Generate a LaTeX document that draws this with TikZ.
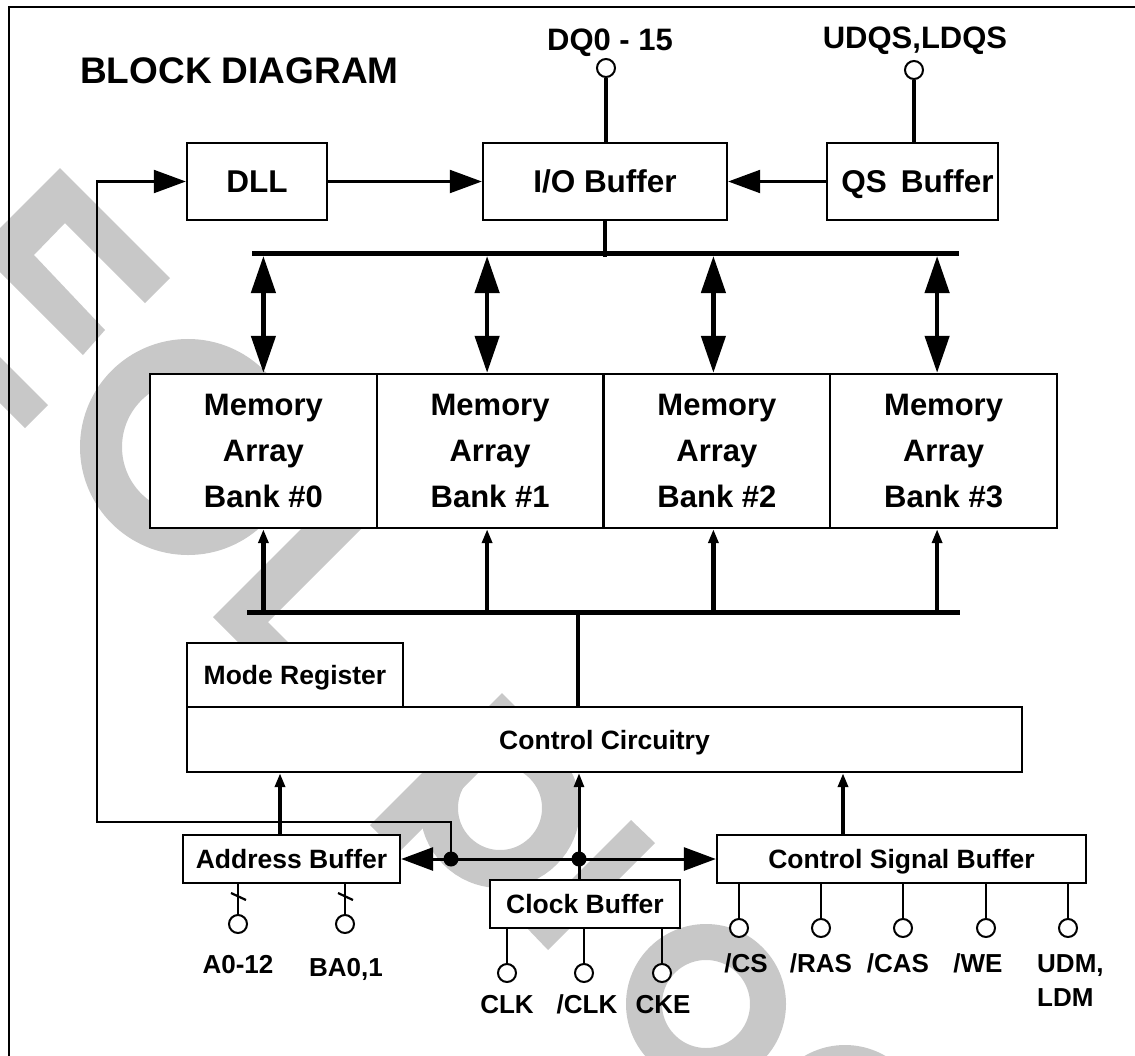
\documentclass[tikz,border=0pt]{standalone}
\usepackage{fontspec}
\setmainfont{Liberation Sans}
\usetikzlibrary{arrows.meta,calc,backgrounds}
\definecolor{wm}{RGB}{200,200,200}
\tikzset{
  bighead/.tip={Triangle[length=32pt,width=23pt]},
  bihead/.tip={Triangle[length=37pt,width=24pt]},
  smallhead/.tip={Triangle[length=14pt,width=10pt]},
}
\begin{document}
\begin{tikzpicture}[x=1pt,y=-1pt,
  box/.style={draw,line width=2.4pt,fill=white,inner sep=0pt,font=\bfseries\fontsize{26.5}{30}\selectfont,text height=19.3pt,text depth=0pt},
  bigbox/.style={box,font=\bfseries\fontsize{31.5}{36}\selectfont,text height=22.6pt},
  bank/.style={draw,line width=2.4pt,fill=white,minimum width=226.75pt,minimum height=154pt,inner sep=0pt,align=center,font=\bfseries\fontsize{31}{46}\selectfont},
  pin/.style={circle,draw,line width=2pt,fill=white,minimum size=18pt,inner sep=0pt},
  lbl/.style={anchor=base,inner sep=0pt,font=\bfseries\fontsize{26}{33}\selectfont},
  toplbl/.style={anchor=base,inner sep=0pt,font=\bfseries\fontsize{31}{36}\selectfont},
  thinln/.style={line width=2.2pt},
  midln/.style={line width=3pt},
  thickln/.style={line width=4.5pt},
  busln/.style={line width=5pt},
  dot/.style={circle,fill=black,inner sep=0pt,minimum size=15pt},
]
\useasboundingbox (0,0) rectangle (1135,1055);

% frame
\draw[line width=2.2pt] (9,1060) -- (9,7) -- (1140,7);

% title
\node[anchor=base west,inner sep=0pt,font=\bfseries\fontsize{37}{44}\selectfont] (title) at (80,83) {BLOCK DIAGRAM};

% top boxes
\node[bigbox,minimum width=140pt,minimum height=77pt] (dll) at (257,181.5) {DLL};
\node[bigbox,minimum width=244pt,minimum height=77pt] (io) at (605,181.5) {I/O Buffer};
\node[bigbox,minimum width=171pt,minimum height=77pt] (qs) at (912.5,181.5) {\hspace{10pt}QS\hspace{14pt}Buffer};

% top pins
\node[pin] (dq) at (606,68) {};
\node[toplbl] (dqlbl) at (610,50) {DQ0 - 15};
\node[pin] (dqs) at (914,70) {};
\node[toplbl] (dqslbl) at (915,48) {UDQS,LDQS};

% banks
\node[bank] (b0) at (263.4,451) {Memory\\Array\\Bank \#0};
\node[bank] (b1) at (490.1,451) {Memory\\Array\\Bank \#1};
\node[bank] (b2) at (716.9,451) {Memory\\Array\\Bank \#2};
\node[bank] (b3) at (943.6,451) {Memory\\Array\\Bank \#3};

% buses
\coordinate (ub1) at (252,253);
\coordinate (ub2) at (959,253);
\coordinate (lb1) at (247,612);
\coordinate (lb2) at (960,612);

% control
\node[box,minimum width=216pt,minimum height=64pt] (mode) at (295,675) {Mode Register};
\node[box,minimum width=835pt,minimum height=65pt] (cc) at (604.5,739.5) {Control Circuitry\hspace{39pt}};

% buffers
\node[box,minimum width=217pt,minimum height=48pt] (ab) at (291.5,859) {Address Buffer};
\node[box,minimum width=190pt,minimum height=48pt] (cb) at (585,904) {Clock Buffer};
\node[box,minimum width=369pt,minimum height=48pt] (csb) at (901.5,859) {Control Signal Buffer};

\coordinate (xaddr) at (280,0);
\coordinate (xbus) at (578,0);
\coordinate (xsig) at (843,0);
\coordinate (fbc) at (97,822);

% dots
\node[dot] (dA) at (451,859) {};
\node[dot] (dB) at (579,859) {};

% bottom pins
\node[pin] (pa) at (238,924) {};
\node[pin] (pba) at (345,924) {};
\node[lbl] (la) at (238,973) {A0-12};
\node[lbl] (lba) at (346,976) {BA0,1};

\node[pin] (pc1) at (507,973) {};
\node[pin] (pc2) at (584,973) {};
\node[pin] (pc3) at (662,973) {};
\node[lbl] (lc1) at (507,1013) {CLK};
\node[lbl] (lc2) at (587,1013) {/CLK};
\node[lbl] (lc3) at (663,1013) {CKE};

\node[pin] (ps1) at (739,928) {};
\node[pin] (ps2) at (821,928) {};
\node[pin] (ps3) at (903,928) {};
\node[pin] (ps4) at (986,928) {};
\node[pin] (ps5) at (1068,928) {};
\node[lbl] (ls1) at (746,972) {/CS};
\node[lbl] (ls2) at (821,972) {/RAS};
\node[lbl] (ls3) at (898,972) {/CAS};
\node[lbl] (ls4) at (978,972) {/WE};
\node[lbl,anchor=base west] (ls5) at (1037,972) {UDM,};
\node[lbl,anchor=base west] (ls6) at (1037,1006) {LDM};

% watermark
\begin{pgfonlayer}{background}
\fill[wm] (0,228) -- (60,168) -- (170,278) -- (145,303) -- (65,223) -- (34,255) -- (105,330) -- (83,355) -- (0,272) -- cycle;
\fill[wm] (0,357) -- (48,405) -- (25,428) -- (0,403) -- cycle;
\draw[wm,line width=42pt] (188,447) circle[radius=87];
\fill[wm] (213,617) -- (330,500) -- (390,500) -- (268,622) -- (346,700) -- (296,700) -- cycle;
\fill[wm] (502,693) -- (530,721) -- (398,853) -- (370,825) -- cycle;
\draw[wm,line width=38pt] (500,808) circle[radius=61];
\fill[wm] (631,820) -- (655,843) -- (548,950) -- (525,926) -- cycle;
\draw[wm,line width=36pt] (706,1004) circle[radius=62];
\draw[wm,line width=36pt] (845,1125) circle[radius=62];
\end{pgfonlayer}

% connectors top
\draw[thickln] (dq) -- (dq |- io.north);
\draw[thickln] (dqs) -- (dqs |- qs.north);
\draw[thinln,-{bighead}] (dll.east) -- (io.west);
\draw[thinln,-{bighead}] (qs.west) -- (io.east);
\draw[thickln] (io.south) -- ($(io.south |- ub1)+(0,4)$);
\draw[busln] (ub1) -- (ub2);

% bidirectional
\draw[thickln,{bihead}-{bihead}] ($(b0.north |- ub1)+(0,3)$) -- (b0.north);
\draw[thickln,{bihead}-{bihead}] ($(b1.north |- ub1)+(-3,3)$) -- ($(b1.north)+(-3,0)$);
\draw[thickln,{bihead}-{bihead}] ($(b2.north |- ub1)+(-3.5,3)$) -- ($(b2.north)+(-3.5,0)$);
\draw[thickln,{bihead}-{bihead}] ($(b3.north |- ub1)+(-6.5,3)$) -- ($(b3.north)+(-6.5,0)$);

% lower bus
\draw[busln] (lb1) -- (lb2);
\draw[thickln,-{smallhead}] (b0.south |- lb1) -- (b0.south);
\draw[thickln,-{smallhead}] ($(b1.south |- lb1)+(-3,0)$) -- ($(b1.south)+(-3,0)$);
\draw[thickln,-{smallhead}] ($(b2.south |- lb1)+(-3.5,0)$) -- ($(b2.south)+(-3.5,0)$);
\draw[thickln,-{smallhead}] ($(b3.south |- lb1)+(-6.5,0)$) -- ($(b3.south)+(-6.5,0)$);
\draw[thickln] (xbus |- lb1) -- (xbus |- cc.north);

% into control circuitry
\draw[thickln,-{smallhead}] (xaddr |- ab.north) -- (xaddr |- cc.south);
\draw[midln,-{smallhead}] (dB |- cb.north) -- (dB |- cc.south);
\draw[thickln,-{smallhead}] (xsig |- csb.north) -- (xsig |- cc.south);

% horizontal clock distribution
\draw[midln,{bighead}-{bighead}] (ab.east) -- (csb.west);
\draw[thinln,-{bighead}] (dA.center) |- (fbc) |- (dll.west);

% pin wires
\draw[thinln] (pa) -- (pa |- ab.south);
\draw[thinln] (pba) -- (pba |- ab.south);
\draw[thinln] ($(pa)+(-7,-31)$) -- ($(pa)+(8,-24)$);
\draw[thinln] ($(pba)+(-7,-31)$) -- ($(pba)+(8,-24)$);
\draw[thinln] (pc1) -- (pc1 |- cb.south);
\draw[thinln] (pc2) -- (pc2 |- cb.south);
\draw[thinln] (pc3) -- (pc3 |- cb.south);
\draw[thinln] (ps1) -- (ps1 |- csb.south);
\draw[thinln] (ps2) -- (ps2 |- csb.south);
\draw[thinln] (ps3) -- (ps3 |- csb.south);
\draw[thinln] (ps4) -- (ps4 |- csb.south);
\draw[thinln] (ps5) -- (ps5 |- csb.south);
\end{tikzpicture}
\end{document}
